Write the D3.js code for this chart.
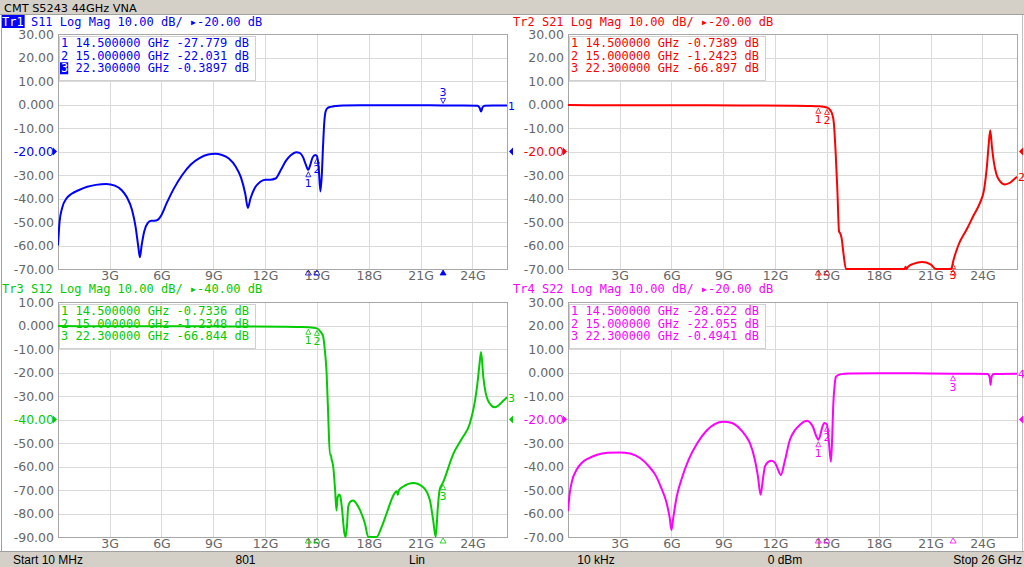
<!DOCTYPE html>
<html><head><meta charset="utf-8">
<script src="https://cdn.jsdelivr.net/npm/d3@7"></script>
<style>body{margin:0;background:#fff;overflow:hidden}svg{display:block}</style>
</head><body>
<script>
// ---------------- DATA ----------------
const xTicks = [3, 6, 9, 12, 15, 18, 21, 24];
const xTickLabels = ["3G", "6G", "9G", "12G", "15G", "18G", "21G", "24G"];
const yTicksA = [30, 20, 10, 0, -10, -20, -30, -40, -50, -60, -70];
const yTickLabelsA = ["30.00", "20.00", "10.00", "0.000", "-10.00", "-20.00", "-30.00", "-40.00", "-50.00", "-60.00", "-70.00"];
const yTicksB = [10, 0, -10, -20, -30, -40, -50, -60, -70, -80, -90];
const yTickLabelsB = ["10.00", "0.000", "-10.00", "-20.00", "-30.00", "-40.00", "-50.00", "-60.00", "-70.00", "-80.00", "-90.00"];
const markerFreqs = [14.5, 15.0, 22.3];

// S11 (GHz, dB)
const s11Freq = [0.01,0.1,0.25,0.5,0.8,1.2,1.7,2.2,2.8,3.3,3.7,4.0,4.3,4.5,4.65,4.75,4.85,5.0,5.2,5.4,5.6,5.8,6.0,6.3,6.7,7.2,7.7,8.2,8.7,9.1,9.5,9.9,10.3,10.6,10.85,11.0,11.15,11.4,11.7,12.0,12.3,12.6,12.9,13.2,13.5,13.8,14.0,14.2,14.35,14.5,14.6,14.75,14.9,15.0,15.1,15.2,15.28,15.35,15.42,15.5,15.6,15.8,16.1,16.5,17.5,19,21,22.3,23.5,24.3,24.42,24.5,24.58,24.7,25.2,26];
const s11Db   = [-60,-50,-44,-40,-38,-36.5,-35,-34.2,-33.8,-34.5,-36.5,-39.5,-45,-52,-60,-65,-60,-54,-50.5,-49.5,-49.5,-49,-47,-42,-36,-30,-25.5,-22.8,-21.3,-21,-21.5,-23,-26.5,-31,-38,-44,-40,-35.5,-33,-32,-32,-31.5,-28,-24,-21.5,-20.3,-20.6,-22.5,-25.5,-27.8,-26,-22.5,-21.5,-22.0,-27,-37,-30,-18,-8,-3,-1.6,-1.0,-0.6,-0.4,-0.3,-0.3,-0.35,-0.39,-0.4,-0.5,-1.5,-3,-1.3,-0.5,-0.4,-0.4];
const s11Markers = ["-27.779", "-22.031", "-0.3897"];

// S21
const s21Freq = [0.01,2,6,10,13,14,14.5,15.0,15.2,15.3,15.4,15.5,15.6,15.7,15.78,15.85,15.95,16.1,19.5,19.55,19.6,19.7,20.0,20.5,21.0,21.3,22.1,22.2,22.3,22.6,23.1,23.5,23.85,24.1,24.25,24.35,24.45,24.55,24.65,24.8,25.0,25.3,25.6,25.8,26];
const s21Db   = [-0.2,-0.3,-0.35,-0.4,-0.5,-0.6,-0.74,-1.24,-2.5,-4,-8,-20,-36,-54,-55,-57,-63,-75,-75,-69,-72,-69,-67.8,-67,-68,-72,-75,-71,-66.9,-60,-53,-47,-42,-36,-27,-18,-11,-18,-24,-29.5,-32.5,-34,-33.3,-32,-30.7];
const s21Markers = ["-0.7389", "-1.2423", "-66.897"];

// S12
const s12Freq = [0.01,2,6,10,13,14,14.5,15.0,15.2,15.36,15.45,15.56,15.65,15.75,15.8,15.85,15.94,16.05,16.13,16.2,16.29,16.36,16.45,16.58,16.66,16.74,16.81,16.95,17.1,17.3,17.5,17.78,17.97,18.45,18.74,19.03,19.42,19.62,19.68,19.75,20.0,20.57,21.15,21.54,21.73,21.87,22.0,22.1,22.3,22.9,23.4,23.85,24.15,24.3,24.4,24.5,24.63,24.9,25.3,25.8,26];
const s12Db   = [-0.2,-0.3,-0.35,-0.4,-0.5,-0.6,-0.73,-1.23,-2.6,-4.7,-10,-20.4,-38,-55,-55,-57,-60,-70,-78.7,-73,-71.9,-73,-78,-88,-95,-85,-77,-74.8,-74.5,-76,-78.7,-84.4,-93,-93,-85.8,-80,-72.3,-70.5,-72,-70,-68.5,-67,-68.8,-74.5,-83,-95,-77,-70,-66.8,-54.5,-48,-41.7,-32,-24,-17,-11.3,-22,-31.9,-34.8,-31.9,-30.5];
const s12Markers = ["-0.7336", "-1.2348", "-66.844"];

// S22
const s22Freq = [0.01,0.1,0.25,0.5,0.8,1.2,1.7,2.3,3.0,3.6,4.2,4.7,5.1,5.4,5.7,5.9,6.0,6.1,6.3,6.6,7.0,7.5,8.0,8.5,9.0,9.5,9.9,10.3,10.54,10.83,11.0,11.16,11.3,11.41,11.6,11.8,12.0,12.15,12.33,12.55,12.85,13.15,13.43,13.7,13.86,14.05,14.2,14.35,14.5,14.6,14.72,14.85,15.0,15.1,15.23,15.3,15.36,15.45,15.52,15.75,16.33,18,20,22.3,24.3,24.42,24.47,24.52,24.65,26];
const s22Db   = [-59,-52,-46,-41.5,-38.5,-36.5,-35,-34.2,-34,-34.5,-36.5,-40,-44,-49,-55,-62,-67,-62,-53,-45,-37,-30,-25,-22,-21,-21.5,-23.5,-27,-30.1,-37.2,-44,-52,-45,-40,-38,-37.5,-38.5,-41,-43.6,-38,-28.7,-24.5,-22.3,-20.8,-20.5,-21.5,-23.3,-26.5,-28.6,-27,-23.5,-21.5,-22.06,-28.7,-38,-28,-14.5,-5,-1.8,-0.8,-0.4,-0.3,-0.35,-0.49,-0.6,-2,-5.3,-2,-0.6,-0.5];
const s22Markers = ["-28.622", "-22.055", "-0.4941"];

// ---------------- LAYOUT ----------------
const W = 1024, H = 567, PW = 449, PH = 235;
const MONO = "'DejaVu Sans Mono', monospace";
const SANS = "'DejaVu Sans', sans-serif";
const UI = "'Liberation Sans', Arial, sans-serif";
const CW = 7.22;

const panels = [
  {tr:"Tr1", param:"S11", ref:-20, top:30, bot:-70, yt:yTicksA, yl:yTickLabelsA, f:s11Freq, v:s11Db, mk:s11Markers, color:"#0000ff", x0:58, y0:34, hx:2, hy:26, active:true},
  {tr:"Tr2", param:"S21", ref:-20, top:30, bot:-70, yt:yTicksA, yl:yTickLabelsA, f:s21Freq, v:s21Db, mk:s21Markers, color:"#ff0000", x0:568, y0:34, hx:513, hy:26, active:false},
  {tr:"Tr3", param:"S12", ref:-40, top:10, bot:-90, yt:yTicksB, yl:yTickLabelsB, f:s12Freq, v:s12Db, mk:s12Markers, color:"#00cc00", x0:58, y0:302, hx:2, hy:292.5, active:false},
  {tr:"Tr4", param:"S22", ref:-20, top:30, bot:-70, yt:yTicksA, yl:yTickLabelsA, f:s22Freq, v:s22Db, mk:s22Markers, color:"#ff00ff", x0:568, y0:302, hx:513, hy:292.5, active:false}
];

const svg = d3.select("body").append("svg").attr("width", W).attr("height", H);
svg.append("rect").attr("width", W).attr("height", H).attr("fill", "#fff");

// title bar
svg.append("rect").attr("x",0).attr("y",0).attr("width",W).attr("height",14).attr("fill","#d4d0c8");
svg.append("line").attr("x1",0).attr("x2",W).attr("y1",14.5).attr("y2",14.5).attr("stroke","#a0a0a0");
svg.append("text").attr("x",4).attr("y",12).attr("font-family",SANS).attr("font-size",11.3).attr("fill","#000").text("CMT S5243 44GHz VNA");

// side borders
svg.append("line").attr("x1",1.5).attr("x2",1.5).attr("y1",15).attr("y2",551).attr("stroke","#a0a0a0");
svg.append("line").attr("x1",1022.5).attr("x2",1022.5).attr("y1",15).attr("y2",551).attr("stroke","#c0c0c0");

// status bar
svg.append("rect").attr("x",0).attr("y",551).attr("width",W).attr("height",16).attr("fill","#d4d0c8");
svg.append("line").attr("x1",0).attr("x2",W).attr("y1",551.5).attr("y2",551.5).attr("stroke","#a0a0a0");
const status = [["Start 10 MHz",13,"start"],["801",245.5,"middle"],["Lin",417,"middle"],["10 kHz",596,"middle"],["0 dBm",785,"middle"],["Stop 26 GHz",1022,"end"]];
status.forEach(s => svg.append("text").attr("x",s[1]).attr("y",563.5).attr("text-anchor",s[2])
  .attr("font-family",UI).attr("font-size",12).attr("fill","#000").text(s[0]));

panels.forEach((p, pi) => {
  const x = d3.scaleLinear().domain([0.01, 26]).range([p.x0, p.x0 + PW]);
  const y = d3.scaleLinear().domain([p.bot, p.top]).range([p.y0 + PH, p.y0]).clamp(true);
  const g = svg.append("g");

  // y axis with gridlines
  const ya = g.append("g").attr("transform", `translate(${p.x0},0)`)
    .call(d3.axisLeft(y).tickValues(p.yt).tickSize(-PW).tickPadding(4).tickFormat((d,i)=>p.yl[i]));
  ya.select(".domain").remove();
  ya.selectAll("line").attr("stroke","#dadada").attr("shape-rendering","crispEdges");
  ya.selectAll("text").attr("font-family",SANS).attr("font-size",12.5)
    .attr("fill",d => d === p.ref ? p.color : "#666");

  // x axis with gridlines
  const xa = g.append("g").attr("transform", `translate(0,${p.y0 + PH})`)
    .call(d3.axisBottom(x).tickValues(xTicks).tickSize(-PH).tickPadding(2).tickFormat((d,i)=>xTickLabels[i]));
  xa.select(".domain").remove();
  xa.selectAll("line").attr("stroke","#dadada").attr("shape-rendering","crispEdges");
  xa.selectAll("text").attr("font-family",SANS).attr("font-size",12.5).attr("fill","#666");

  // plot frame
  g.append("rect").attr("x",p.x0+0.5).attr("y",p.y0+0.5).attr("width",PW).attr("height",PH)
    .attr("fill","none").attr("stroke","#a8a8a8").attr("shape-rendering","crispEdges");

  // header
  const hx = p.hx;
  if (p.active) {
    g.append("rect").attr("x",hx).attr("y",p.hy-11).attr("width",CW*3+1).attr("height",13).attr("fill",p.color);
  }
  const ht = g.append("text").attr("x",hx).attr("y",p.hy).attr("font-family",MONO).attr("font-size",12).attr("fill",p.color)
    .attr("xml:space","preserve");
  ht.append("tspan").attr("fill", p.active ? "#fff" : p.color).text(p.tr);
  ht.append("tspan").text(` ${p.param} Log Mag 10.00 dB/ \u25B8${p.ref.toFixed(2)} dB`);

  // readout box
  g.append("rect").attr("x",p.x0+1).attr("y",p.y0+2).attr("width",196).attr("height",44)
    .attr("fill","#fff").attr("stroke","#d0d0d0").attr("shape-rendering","crispEdges");
  markerFreqs.forEach((f, i) => {
    const by = p.y0 + 13.3 + i * 12.5;
    const act = p.active && i === 2;
    if (act) g.append("rect").attr("x",p.x0+2).attr("y",by-10).attr("width",CW+1).attr("height",12).attr("fill",p.color);
    const t = g.append("text").attr("x",p.x0+3).attr("y",by).attr("font-family",MONO).attr("font-size",12)
      .attr("fill",p.color).attr("xml:space","preserve");
    t.append("tspan").attr("fill", act ? "#fff" : p.color).text(String(i+1));
    t.append("tspan").text(` ${f.toFixed(6)} GHz ${p.mk[i]} dB`);
  });

  // trace
  const clipId = "clip" + pi;
  svg.append("clipPath").attr("id", clipId).append("rect")
    .attr("x",p.x0).attr("y",p.y0-1).attr("width",PW+1).attr("height",PH+2);
  const pts = p.f.map((f,i)=>[f, p.v[i]]);
  g.append("path").datum(pts).attr("clip-path",`url(#${clipId})`)
    .attr("d", d3.line().x(d=>x(d[0])).y(d=>y(d[1])).curve(d3.curveMonotoneX))
    .attr("fill","none").attr("stroke",p.color).attr("stroke-width",2).attr("stroke-linejoin","round");

  // markers on trace
  markerFreqs.forEach((f, i) => {
    const mx = x(f), my = y(+p.mk[i]);
    const above = p.active && i === 2;
    if (above) {
      g.append("path").attr("d",`M${mx-2.5},${my-7}L${mx+2.5},${my-7}L${mx},${my-2}Z`).attr("fill","none").attr("stroke",p.color).attr("stroke-width",0.8);
      g.append("text").attr("x",mx).attr("y",my-9).attr("text-anchor","middle").attr("font-family",SANS).attr("font-size",11).attr("fill",p.color).text(String(i+1));
    } else {
      g.append("path").attr("d",`M${mx-2.5},${my+7}L${mx+2.5},${my+7}L${mx},${my+2}Z`).attr("fill","none").attr("stroke",p.color).attr("stroke-width",0.8);
      g.append("text").attr("x",mx).attr("y",my+17).attr("text-anchor","middle").attr("font-family",SANS).attr("font-size",11).attr("fill",p.color).text(String(i+1));
    }
    // stimulus triangles below the plot
    const by = p.y0 + PH;
    g.append("path").attr("d",`M${mx-3},${by+6}L${mx+3},${by+6}L${mx},${by+1}Z`)
      .attr("fill", (p.active && i===2) ? p.color : "none").attr("stroke",p.color).attr("stroke-width",0.8);
  });

  // reference arrows
  const ry = y(p.ref);
  g.append("path").attr("d",`M${p.x0-5},${ry-4}L${p.x0-5},${ry+4}L${p.x0-1},${ry}Z`).attr("fill",p.color);
  g.append("path").attr("d",`M${p.x0+PW+6},${ry-4}L${p.x0+PW+6},${ry+4}L${p.x0+PW+2},${ry}Z`).attr("fill",p.color);

  // trace end label
  const lastV = p.v[p.v.length-1];
  g.append("text").attr("x",p.x0+PW+1).attr("y",y(lastV)+4.5).attr("font-family",SANS).attr("font-size",11)
    .attr("fill",p.color).text(p.tr.slice(2));
});
</script>
</body></html>
